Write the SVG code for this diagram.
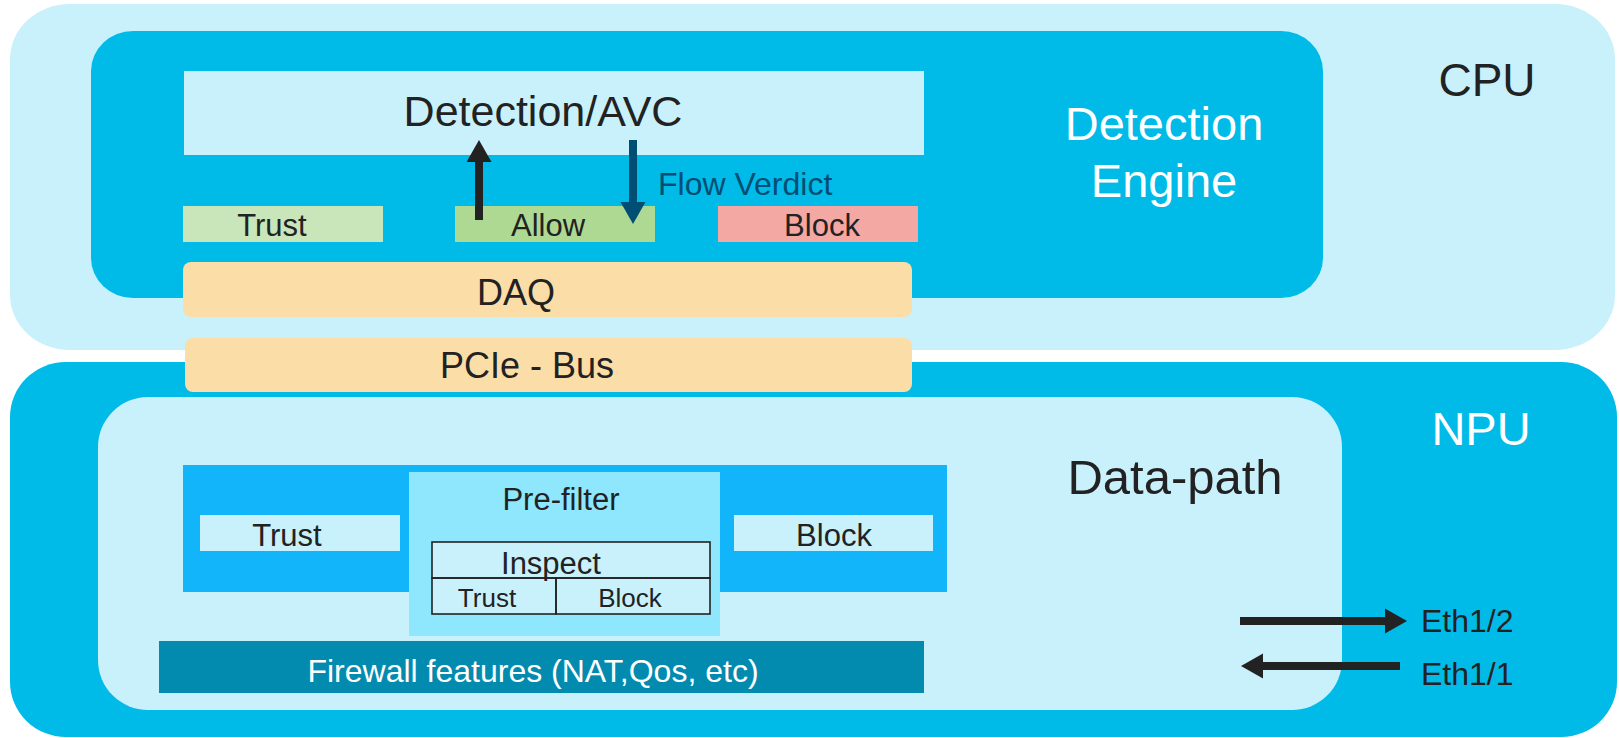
<svg xmlns="http://www.w3.org/2000/svg" width="1619" height="738" viewBox="0 0 1619 738">
  <defs>
    <style>
      text { font-family: "Liberation Sans", Arial, sans-serif; }
      .pale { fill: #C8F1FC; }
      .cyan { fill: #00BBE8; }
      .dark { fill: #222222; }
      .white { fill: #FFFFFF; }
      .bar { fill: #FBDDA7; }
      .cell { fill: none; stroke: #222222; stroke-width: 1.6; }
    </style>
    <marker id="headBlack" viewBox="0 0 10 10" refX="0" refY="5" markerWidth="10" markerHeight="10" markerUnits="userSpaceOnUse" orient="auto" overflow="visible">
      <path d="M0,-7.5 L22,5 L0,17.5 Z" fill="#222222"/>
    </marker>
    <marker id="headBlue" viewBox="0 0 10 10" refX="0" refY="5" markerWidth="10" markerHeight="10" markerUnits="userSpaceOnUse" orient="auto" overflow="visible">
      <path d="M0,-7.5 L22,5 L0,17.5 Z" fill="#004E73"/>
    </marker>
  </defs>

  <!-- CPU -->
  <g id="cpu">
    <rect class="pale" x="10" y="4" width="1605" height="346" rx="60" ry="55"/>
    <text class="dark" x="1487" y="96" font-size="46" text-anchor="middle">CPU</text>
  </g>

  <!-- Detection engine -->
  <g id="detection-engine">
    <rect class="cyan" x="91" y="31" width="1232" height="267" rx="42" ry="40"/>
    <text class="white" x="1164" y="140" font-size="47" text-anchor="middle">Detection</text>
    <text class="white" x="1164" y="197" font-size="47" text-anchor="middle">Engine</text>
  </g>

  <g id="detection-avc">
    <rect class="pale" x="184" y="71" width="740" height="84"/>
    <text class="dark" x="543" y="126" font-size="43" text-anchor="middle">Detection/AVC</text>
  </g>

  <g id="de-trust">
    <rect x="183" y="206" width="200" height="36" fill="#C8E6BA"/>
    <text class="dark" x="272" y="236" font-size="31" text-anchor="middle">Trust</text>
  </g>
  <g id="de-allow">
    <rect x="455" y="206" width="200" height="36" fill="#AED992"/>
    <text class="dark" x="548" y="236" font-size="31" text-anchor="middle">Allow</text>
  </g>
  <g id="de-block">
    <rect x="718" y="206" width="200" height="36" fill="#F4A8A4"/>
    <text class="dark" x="822" y="236" font-size="31" text-anchor="middle">Block</text>
  </g>

  <g id="daq">
    <rect class="bar" x="183" y="262" width="729" height="55" rx="8"/>
    <text class="dark" x="516" y="305" font-size="36" text-anchor="middle">DAQ</text>
  </g>

  <!-- NPU -->
  <g id="npu">
    <rect class="cyan" x="10" y="362" width="1607" height="375" rx="56" ry="55"/>
    <text class="white" x="1481" y="445" font-size="47" text-anchor="middle">NPU</text>
  </g>

  <g id="pcie-bus">
    <rect class="bar" x="185" y="338" width="727" height="54" rx="8"/>
    <text class="dark" x="527" y="378" font-size="36" text-anchor="middle">PCIe - Bus</text>
  </g>

  <g id="data-path">
    <rect class="pale" x="98" y="397" width="1244" height="313" rx="50" ry="50"/>
    <text class="dark" x="1175" y="494" font-size="49" text-anchor="middle">Data-path</text>
  </g>

  <g id="prefilter-actions">
    <rect x="183" y="465" width="764" height="127" fill="#13B5FA"/>
  </g>

  <g id="dp-trust">
    <rect class="pale" x="200" y="515" width="200" height="36"/>
    <text class="dark" x="287" y="546" font-size="31" text-anchor="middle">Trust</text>
  </g>
  <g id="dp-block">
    <rect class="pale" x="734" y="515" width="199" height="36"/>
    <text class="dark" x="834" y="546" font-size="31" text-anchor="middle">Block</text>
  </g>

  <g id="pre-filter">
    <rect x="409" y="472" width="311" height="164" fill="#8EE7FD"/>
    <text class="dark" x="561" y="510" font-size="31" text-anchor="middle">Pre-filter</text>
  </g>

  <g id="inspect">
    <rect x="432" y="542" width="278" height="72" fill="#C8F1FC"/>
    <rect class="cell" x="432" y="542" width="278" height="36"/>
    <rect class="cell" x="432" y="578" width="124" height="36"/>
    <rect class="cell" x="556" y="578" width="154" height="36"/>
    <text class="dark" x="551" y="574" font-size="31" text-anchor="middle">Inspect</text>
    <text class="dark" x="487" y="607" font-size="26" text-anchor="middle">Trust</text>
    <text class="dark" x="630" y="607" font-size="26" text-anchor="middle">Block</text>
  </g>

  <g id="firewall-features">
    <rect x="159" y="641" width="765" height="52" fill="#028BAF"/>
    <text class="white" x="533" y="682" font-size="32" text-anchor="middle">Firewall features (NAT,Qos, etc)</text>
  </g>

  <g id="eth-labels">
    <text class="dark" x="1421" y="632" font-size="32">Eth1/2</text>
    <text class="dark" x="1421" y="685" font-size="32">Eth1/1</text>
  </g>

  <!-- Connectors -->
  <g id="connectors" stroke-width="8" fill="none">
    <line x1="479" y1="220" x2="479" y2="162" stroke="#222222" marker-end="url(#headBlack)"/>
    <line x1="633" y1="140" x2="633" y2="202" stroke="#004E73" marker-end="url(#headBlue)"/>
    <line x1="1240" y1="621" x2="1385" y2="621" stroke="#222222" marker-end="url(#headBlack)"/>
    <line x1="1400" y1="666" x2="1263" y2="666" stroke="#222222" marker-end="url(#headBlack)"/>
  </g>
  <text x="658" y="195" font-size="32" fill="#004E73">Flow Verdict</text>
</svg>
